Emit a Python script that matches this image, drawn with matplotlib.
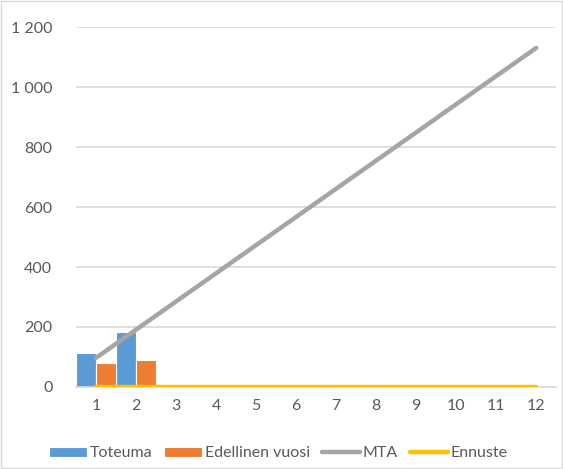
import matplotlib.pyplot as plt
import numpy as np
from matplotlib.patches import Rectangle

months = [1, 2, 3, 4, 5, 6, 7, 8, 9, 10, 11, 12]
toteuma = [113, 183]
edellinen = [80, 90]
mta = [97, 191, 285, 379, 473, 567, 661, 755, 849, 943, 1037, 1131]
ennuste = [0, 0, 0, 0, 0, 0, 0, 0, 0, 0, 0, 0]

plt.rcParams['font.family'] = ['Lato', 'DejaVu Sans']
txt = '#595959'
grid = '#d9d9d9'

fig = plt.figure(figsize=(5.63, 4.69), dpi=100)
ax = fig.add_axes([0.135, 0.175, 0.853, 0.767])

x = np.arange(len(months))
w = 0.5
b1 = ax.bar(x[:len(toteuma)] - w / 2, toteuma, w, color='#5b9bd5', edgecolor='white',
            linewidth=0.8, label='Toteuma', zorder=2)
b2 = ax.bar(x[:len(edellinen)] + w / 2, edellinen, w, color='#ed7d31', edgecolor='white',
            linewidth=0.8, label='Edellinen vuosi', zorder=2)
l1, = ax.plot(x, mta, color='#a5a5a5', linewidth=3.2, solid_capstyle='round',
              label='MTA', zorder=3)
l2, = ax.plot(x, ennuste, color='#ffc000', linewidth=3.2, solid_capstyle='round',
              label='Ennuste', zorder=3)

ax.set_xlim(-0.5, len(months) - 0.5)
ax.set_ylim(0, 1200)
ax.set_yticks(range(0, 1201, 200))
ax.set_yticklabels([f'{v:,}'.replace(',', ' ') for v in range(0, 1201, 200)])
ax.set_xticks(x)
ax.set_xticklabels([str(m) for m in months])
ax.yaxis.grid(True, color=grid, linewidth=1.2, zorder=0)
ax.set_axisbelow(True)
for s in ['top', 'right', 'left']:
    ax.spines[s].set_visible(False)
ax.spines['bottom'].set_color(grid)
ax.spines['bottom'].set_linewidth(1.2)
ax.tick_params(axis='both', length=0, colors=txt, labelsize=11.5)
ax.tick_params(axis='y', pad=17)
ax.tick_params(axis='x', pad=9)

fig.legend([b1, b2, l1, l2], ['Toteuma', 'Edellinen vuosi', 'MTA', 'Ennuste'],
           loc='lower center', bbox_to_anchor=(0.494, -0.012), ncol=4, frameon=False,
           fontsize=11.5, labelcolor=txt, handlelength=2.4, handleheight=0.6,
           handletextpad=0.15, columnspacing=0.75)

fig.patches.append(Rectangle((0.002, 0.002), 0.996, 0.996, transform=fig.transFigure,
                             fill=False, edgecolor=grid, linewidth=1))

fig.savefig('out.png', dpi=100)
